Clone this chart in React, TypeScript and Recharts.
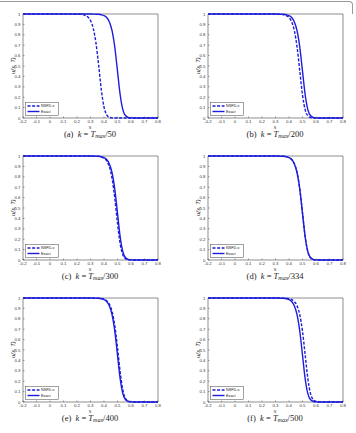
import React from "react";
import { LineChart, Line, XAxis, YAxis, ReferenceArea, Legend } from "recharts";

// sample positions along x (dense through the front)
const xGrid = [-0.2, 0.2, 0.22, 0.24, 0.26, 0.28, 0.3, 0.32, 0.34, 0.36, 0.38, 0.4, 0.42, 0.44, 0.46, 0.48, 0.5, 0.52, 0.54, 0.56, 0.58, 0.6, 0.62, 0.64, 0.8];

// exact solution u(x,T), same in every panel
const exactU = [1, 1, 1, 1, 1, 1, 1, 0.999, 0.998, 0.997, 0.993, 0.985, 0.966, 0.924, 0.838, 0.68, 0.451, 0.221, 0.078, 0.021, 0.005, 0.001, 0, 0, 0];

// NSFD approximations, one per step size
const nsfdA = [1, 0.998, 0.997, 0.995, 0.987, 0.972, 0.937, 0.864, 0.725, 0.511, 0.273, 0.105, 0.03, 0.007, 0.001, 0, 0, 0, 0, 0, 0, 0, 0, 0, 0];
const nsfdB = [1, 1, 1, 1, 1, 1, 0.999, 0.998, 0.997, 0.993, 0.985, 0.966, 0.924, 0.838, 0.68, 0.451, 0.221, 0.078, 0.021, 0.005, 0.001, 0, 0, 0, 0];
const nsfdC = [1, 1, 1, 1, 1, 1, 1, 0.999, 0.998, 0.996, 0.991, 0.979, 0.952, 0.895, 0.783, 0.593, 0.354, 0.154, 0.049, 0.012, 0.003, 0.001, 0, 0, 0];
const nsfdD = [1, 1, 1, 1, 1, 1, 1, 0.999, 0.998, 0.997, 0.993, 0.985, 0.966, 0.925, 0.84, 0.682, 0.452, 0.221, 0.078, 0.021, 0.005, 0.001, 0, 0, 0];
const nsfdE = [1, 1, 1, 1, 1, 1, 1, 1, 0.999, 0.998, 0.995, 0.988, 0.974, 0.939, 0.868, 0.733, 0.523, 0.286, 0.113, 0.033, 0.008, 0.002, 0, 0, 0];
const nsfdF = [1, 1, 1, 1, 1, 1, 1, 1, 0.999, 0.998, 0.997, 0.993, 0.985, 0.966, 0.924, 0.838, 0.68, 0.451, 0.221, 0.078, 0.021, 0.005, 0.001, 0, 0];

const panelTags = ["a", "b", "c", "d", "e", "f"];
const stepDivisors = [50, 200, 300, 334, 400, 500];
const nsfdSeries = [nsfdA, nsfdB, nsfdC, nsfdD, nsfdE, nsfdF];
const seriesNames = ["NSFD-x", "Exact"];

const xTicks = [-0.2, -0.1, 0, 0.1, 0.2, 0.3, 0.4, 0.5, 0.6, 0.7, 0.8];
const yTicks = [0, 0.1, 0.2, 0.3, 0.4, 0.5, 0.6, 0.7, 0.8, 0.9, 1];

const BLUE = "#1c1cdc";
const AXIS = "#444";
const colLeft = [0, 185];
const rowTop = [10, 152, 294];
const PLOT_H = 104;

const tickFont = { fontSize: 4.3, fill: "#333", fontFamily: "Liberation Sans, Arial, sans-serif" };

const renderXLabel = () => (
  <text
    x={23 + 67}
    y={4 + PLOT_H + 10.5}
    textAnchor="middle"
    fontSize={5.5}
    fontStyle="italic"
    fontFamily="DejaVu Serif, serif"
    fill="#222"
  >
    x
  </text>
);

const renderLegend = (props: any) => {
  const items = [...(props.payload || [])].sort(
    (a: any, b: any) => seriesNames.indexOf(a.value) - seriesNames.indexOf(b.value)
  );
  return (
    <svg width={34} height={14} style={{ display: "block" }}>
      <rect x={0.3} y={0.3} width={33.4} height={13.4} fill="#fff" stroke={AXIS} strokeWidth={0.5} />
      {items.map((e: any, i: number) => (
        <g key={i}>
          <line
            x1={2.5}
            x2={14.5}
            y1={4 + i * 5.5}
            y2={4 + i * 5.5}
            stroke={BLUE}
            strokeWidth={1.4}
            strokeDasharray={e.value === "Exact" ? undefined : "3 1.6"}
          />
          <text
            x={16}
            y={4 + i * 5.5}
            fontSize={3.8}
            dominantBaseline="central"
            fontFamily="Liberation Sans, Arial, sans-serif"
            fill="#222"
          >
            {e.value}
          </text>
        </g>
      ))}
    </svg>
  );
};

function Panel({ idx }: { idx: number }) {
  const nsfd = nsfdSeries[idx];
  const data = xGrid.map((x, i) => ({ x, nsfd: nsfd[i], exact: exactU[i] }));
  const left = colLeft[idx % 2];
  const top = rowTop[Math.floor(idx / 2)];
  return (
    <>
      <div style={{ position: "absolute", left, top }}>
        <LineChart
          width={170}
          height={4 + PLOT_H + 16}
          data={data}
          margin={{ top: 4, right: 12, bottom: 0, left: 0 }}
        >
          <ReferenceArea
            x1={-0.2}
            x2={0.8}
            y1={0}
            y2={1}
            fill="#fff"
            fillOpacity={1}
            stroke={AXIS}
            strokeWidth={0.6}
          />
          <XAxis
            dataKey="x"
            type="number"
            domain={[-0.2, 0.8]}
            ticks={xTicks}
            interval={0}
            height={16}
            axisLine={false}
            tickSize={-1.5}
            tickMargin={3}
            tick={tickFont}
            tickLine={{ stroke: AXIS, strokeWidth: 0.5 }}
            tickFormatter={(v) => String(v)}
            label={renderXLabel}
          />
          <XAxis
            xAxisId="top"
            orientation="top"
            type="number"
            domain={[-0.2, 0.8]}
            ticks={xTicks}
            interval={0}
            height={0}
            axisLine={false}
            tickSize={-1.5}
            tick={false}
            tickLine={{ stroke: AXIS, strokeWidth: 0.5 }}
          />
          <YAxis
            type="number"
            domain={[0, 1]}
            ticks={yTicks}
            interval={0}
            width={23}
            axisLine={false}
            tickSize={-1.5}
            tickMargin={4}
            tick={tickFont}
            tickLine={{ stroke: AXIS, strokeWidth: 0.5 }}
            tickFormatter={(v) => String(v)}
          />
          <YAxis
            yAxisId="right"
            orientation="right"
            type="number"
            domain={[0, 1]}
            ticks={yTicks}
            interval={0}
            width={0}
            axisLine={false}
            tickSize={-1.5}
            tick={false}
            tickLine={{ stroke: AXIS, strokeWidth: 0.5 }}
          />
          <Line
            dataKey="nsfd"
            name={seriesNames[0]}
            type="monotone"
            stroke={BLUE}
            strokeWidth={1.4}
            strokeDasharray="3 1.6"
            dot={false}
            isAnimationActive={false}
          />
          <Line
            dataKey="exact"
            name={seriesNames[1]}
            type="monotone"
            stroke={BLUE}
            strokeWidth={1.4}
            dot={false}
            isAnimationActive={false}
          />
          <Legend
            layout="vertical"
            align="center"
            verticalAlign="middle"
            wrapperStyle={{ position: "absolute", left: 25, top: 92, width: 34, height: 14 }}
            content={renderLegend}
          />
        </LineChart>
      </div>
      {/* y-axis title, centred on the plot height */}
      <div
        style={{
          position: "absolute",
          left: left + 9,
          top: top + 4,
          width: 7,
          height: PLOT_H,
          display: "flex",
          alignItems: "center",
          justifyContent: "center",
          writingMode: "vertical-rl",
          transform: "rotate(180deg)",
          fontSize: 5.8,
          fontStyle: "italic",
          fontFamily: "Liberation Sans, Arial, sans-serif",
          color: "#222",
          whiteSpace: "nowrap",
        }}
      >
        u(x, T)
      </div>
      {/* caption */}
      <div
        style={{
          position: "absolute",
          left: left + 23 + 67 - 80,
          width: 160,
          top: top + 4 + PLOT_H + 11.5,
          textAlign: "center",
          fontFamily: "Liberation Serif, DejaVu Serif, serif",
          fontSize: 8.5,
          lineHeight: "8px",
          color: "#222",
          whiteSpace: "nowrap",
        }}
      >
        ({panelTags[idx]})&nbsp;&nbsp;<i>k</i> = <i>T</i>
        <span style={{ fontSize: 6, fontStyle: "italic", position: "relative", top: 1 }}>max</span>/{stepDivisors[idx]}
      </div>
    </>
  );
}

export default function App() {
  return (
    <div style={{ position: "absolute", left: 0, top: 0, width: 356, height: 433, background: "#fff", overflow: "hidden" }}>
      <div
        style={{
          position: "absolute",
          left: -2,
          top: 1,
          width: 354,
          height: 12,
          borderTop: "1px solid #9a9a9a",
          borderRight: "1px solid #9a9a9a",
          borderTopRightRadius: 4,
        }}
      />
      {panelTags.map((t, i) => (
        <Panel key={t} idx={i} />
      ))}
    </div>
  );
}
